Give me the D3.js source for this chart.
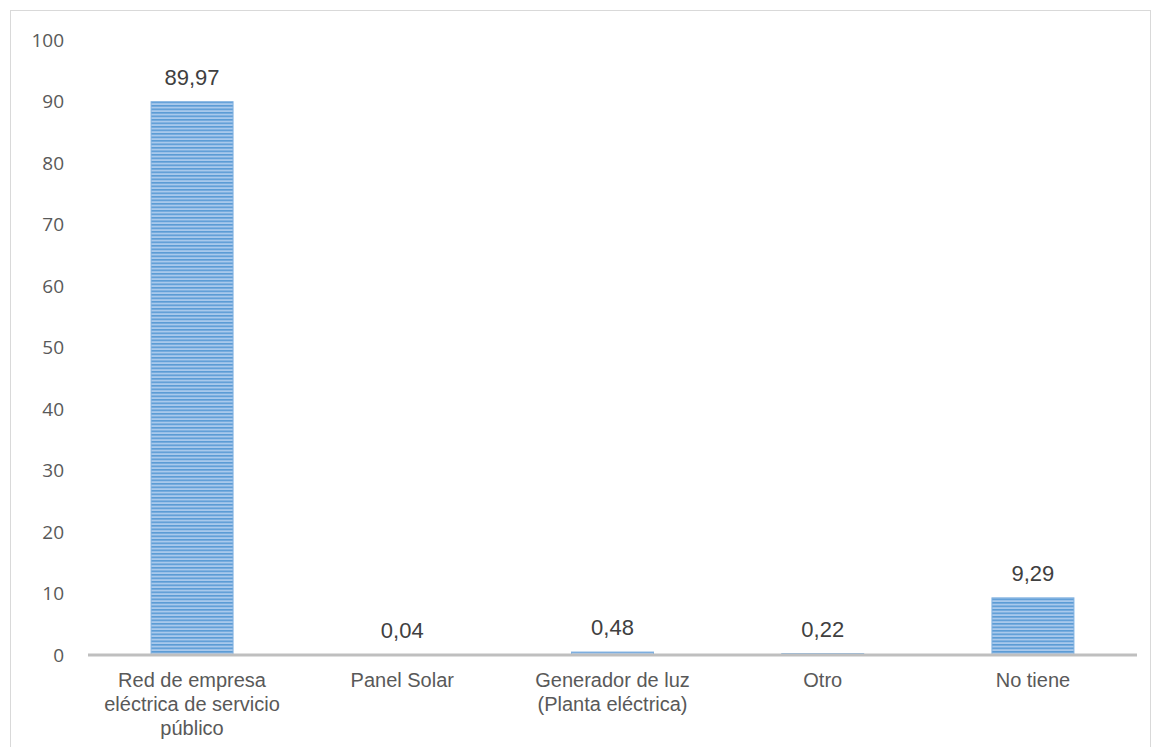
<!DOCTYPE html>
<html>
<head>
<meta charset="utf-8">
<script src="https://cdn.jsdelivr.net/npm/d3@7"></script>
<style>
  body { margin: 0; background: #fff; }
  svg { display: block; font-family: "Liberation Sans", Arial, sans-serif; }
</style>
</head>
<body>
<svg id="chart" width="1152" height="747"></svg>
<script>
const categories = [
  ["Red de empresa", "eléctrica de servicio", "público"],
  ["Panel Solar"],
  ["Generador de luz", "(Planta eléctrica)"],
  ["Otro"],
  ["No tiene"]
];
const values = [89.97, 0.04, 0.48, 0.22, 9.29];
const yTicks = [0, 10, 20, 30, 40, 50, 60, 70, 80, 90, 100];

const width = 1152, height = 747;
const margin = { left: 88, right: 15, top: 40, bottom: 92 };

const svg = d3.select("#chart");

// chart frame
svg.append("rect")
  .attr("x", 10.5).attr("y", 10.5)
  .attr("width", width - 12).attr("height", height)
  .attr("fill", "#fff").attr("stroke", "#d9d9d9");

// striped fill like the original
const defs = svg.append("defs");
const pat = defs.append("pattern")
  .attr("id", "stripes")
  .attr("patternUnits", "userSpaceOnUse")
  .attr("width", 8).attr("height", 3.5);
pat.append("rect").attr("width", 8).attr("height", 3.5).attr("fill", "#a9c9ec");
pat.append("rect").attr("y", 0).attr("width", 8).attr("height", 1.6).attr("fill", "#5b9bd5");

const x = d3.scaleBand()
  .domain(d3.range(categories.length))
  .range([margin.left, width - margin.right])
  .paddingInner(0.61)
  .paddingOuter(0.3);

const y = d3.scaleLinear()
  .domain([0, 100])
  .range([height - margin.bottom, margin.top]);

// y axis labels only
const yAxis = svg.append("g")
  .attr("transform", `translate(${margin.left - 24},0)`)
  .call(d3.axisLeft(y).tickValues(yTicks).tickSize(0).tickPadding(0));
yAxis.select(".domain").remove();
yAxis.selectAll("text")
  .attr("fill", "#595959")
  .style("font-family", "'Open Sans', sans-serif")
  .style("font-size", "19px");

// bars
svg.selectAll("rect.bar")
  .data(values)
  .enter()
  .append("rect")
  .attr("class", "bar")
  .attr("x", (d, i) => x(i))
  .attr("y", d => y(d))
  .attr("width", x.bandwidth())
  .attr("height", d => y(0) - y(d))
  .attr("fill", "url(#stripes)")
  .attr("stroke", "#7fb0e0")
  .attr("stroke-width", 1);

// value labels
svg.selectAll("text.val")
  .data(values)
  .enter()
  .append("text")
  .attr("class", "val")
  .attr("x", (d, i) => x(i) + x.bandwidth() / 2)
  .attr("y", d => y(d) - 17)
  .attr("text-anchor", "middle")
  .attr("fill", "#404040")
  .style("font-size", "22px")
  .text(d => d.toFixed(2).replace(".", ","));

// baseline
svg.append("line")
  .attr("x1", margin.left).attr("x2", width - margin.right)
  .attr("y1", y(0)).attr("y2", y(0))
  .attr("stroke", "#bfbfbf").attr("stroke-width", 3);

// category labels
const cat = svg.selectAll("text.cat")
  .data(categories)
  .enter()
  .append("text")
  .attr("class", "cat")
  .attr("x", (d, i) => x(i) + x.bandwidth() / 2)
  .attr("y", y(0) + 32)
  .attr("text-anchor", "middle")
  .attr("fill", "#595959")
  .style("font-size", "20px");
cat.each(function(lines) {
  const t = d3.select(this);
  lines.forEach((l, k) => {
    t.append("tspan")
      .attr("x", t.attr("x"))
      .attr("dy", k === 0 ? 0 : 24)
      .text(l);
  });
});
</script>
</body>
</html>
